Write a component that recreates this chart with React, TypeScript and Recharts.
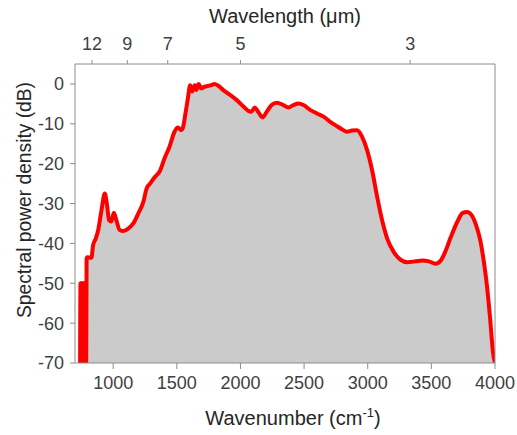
import React from "react";
import { ComposedChart, Area, XAxis, YAxis, Label } from "recharts";

// Wavenumber (cm^-1)
const wavenumbers = [
  740, 743, 746, 749, 752, 755, 758, 761, 764, 767, 770, 773, 776, 779, 782, 785, 788, 791, 795,
  829, 842, 863, 882, 908, 934, 950, 968, 985, 1005, 1026, 1050, 1080, 1118, 1158, 1197, 1237,
  1263, 1290, 1329, 1368, 1403, 1442, 1482, 1508, 1534, 1547, 1568, 1587, 1605, 1621, 1640,
  1653, 1671, 1692, 1718, 1745, 1771, 1797, 1823, 1863, 1916, 1969, 2021, 2060, 2085, 2113,
  2139, 2174, 2206, 2245, 2285, 2337, 2376, 2416, 2455, 2495, 2547, 2600, 2653, 2705, 2758,
  2800, 2837, 2876, 2916, 2955, 2995, 3034, 3074, 3113, 3153, 3205, 3258, 3311, 3376, 3429,
  3481, 3534, 3574, 3613, 3653, 3705, 3745, 3779, 3816, 3850, 3884, 3912, 3938, 3962, 3985, 4000,
];
// Spectral power density (dB)
const psd = [
  -70, -50, -70, -50, -70, -50, -70, -50, -70, -50, -70, -50, -70, -50, -70, -50, -70, -44, -43.5,
  -43.6, -40.5, -38.8, -36.7, -31.7, -27.5, -30, -34.2, -34.5, -32.3, -34.3, -36.6, -36.9, -36.3, -35, -32.5, -29.6,
  -26.2, -25, -23.3, -21.8, -18.7, -15.8, -12, -10.9, -11.6, -11.1, -7.4, -3.6, -0.3, -1.9, -0.3,
  -1.5, 0, -1.1, -0.7, -0.5, -0.3, 0, -0.4, -1.5, -2.7, -4, -5.6, -6.7, -7, -5.9,
  -7, -8.4, -7, -5.3, -4.7, -5.3, -5.9, -5.3, -4.9, -5.3, -6.5, -7.4, -8.2, -9.5, -10.6,
  -11.4, -12, -11.7, -11.6, -13.2, -16.6, -21.6, -28.3, -34.2, -38.8, -42.2, -44.1, -44.7, -44.5, -44.3,
  -44.5, -45.1, -44.3, -41.8, -38.4, -34.5, -32.4, -32.1, -32.9, -35.3, -39.2, -44.5, -51, -59, -67.5, -70,
];

const bottomTicks = [1000, 1500, 2000, 2500, 3000, 3500, 4000];
const wavelengthTicksUm = [12, 9, 7, 5, 3];
const yTicks = [0, -10, -20, -30, -40, -50, -60, -70];

const data = wavenumbers.map((w, i) => ({ w, p: psd[i] }));
const topTicks = wavelengthTicksUm.map((um) => 10000 / um);

const FONT = "'Liberation Sans', Arial, sans-serif";
const AXIS = "#8c8c8c";
const TICK_TEXT = "#404040";
const TITLE = "#262626";

export default function App() {
  return (
    <div style={{ position: "absolute", left: 0, top: 0, width: 517, height: 435, background: "#fff" }}>
      <ComposedChart
        width={517}
        height={435}
        data={data}
        margin={{ top: 34, right: 21, bottom: 0, left: 25 }}
        style={{ fontFamily: FONT }}
      >
        <XAxis
          xAxisId="b"
          dataKey="w"
          type="number"
          domain={[700, 4000]}
          ticks={bottomTicks}
          allowDataOverflow
          height={72}
          stroke={AXIS}
          tickSize={6}
          tickMargin={7}
          tick={{ fill: TICK_TEXT, fontSize: 18, fontFamily: FONT }}
        >
          <Label
            content={() => (
              <text x={293} y={425} textAnchor="middle" fill={TITLE} fontSize={20} fontFamily={FONT}>
                Wavenumber (cm
                <tspan fontSize={13} dy={-8}>-1</tspan>
                <tspan dy={8}>)</tspan>
              </text>
            )}
          />
        </XAxis>
        <XAxis
          xAxisId="t"
          orientation="top"
          dataKey="w"
          type="number"
          domain={[700, 4000]}
          ticks={topTicks}
          tickFormatter={(v: number) => String(Math.round(10000 / v))}
          allowDataOverflow
          height={30}
          stroke={AXIS}
          tickSize={4}
          tickMargin={10}
          tick={{ fill: TICK_TEXT, fontSize: 18, fontFamily: FONT }}
        >
          <Label
            content={() => (
              <text x={285} y={23} textAnchor="middle" fill={TITLE} fontSize={20} fontFamily={FONT}>
                Wavelength (μm)
              </text>
            )}
          />
        </XAxis>
        <YAxis
          yAxisId="l"
          type="number"
          domain={[-70, 5]}
          ticks={yTicks}
          allowDataOverflow
          width={50}
          stroke={AXIS}
          tickSize={5}
          tickMargin={6}
          tick={{ fill: TICK_TEXT, fontSize: 18, fontFamily: FONT }}
        >
          <Label
            content={() => (
              <text
                x={31}
                y={200}
                textAnchor="middle"
                fill={TITLE}
                fontSize={19.5}
                fontFamily={FONT}
                textLength={236}
                lengthAdjust="spacingAndGlyphs"
                transform="rotate(-90, 31, 200)"
              >
                Spectral power density (dB)
              </text>
            )}
          />
        </YAxis>
        <YAxis
          yAxisId="r"
          orientation="right"
          type="number"
          domain={[-70, 5]}
          width={1}
          tick={false}
          tickLine={false}
          stroke={AXIS}
        />
        <Area
          xAxisId="b"
          yAxisId="l"
          dataKey="p"
          type="monotone"
          baseValue={-70}
          fill="#cbcbcb"
          fillOpacity={1}
          stroke="#ff0000"
          strokeWidth={4}
          dot={false}
          activeDot={false}
          isAnimationActive={false}
        />
      </ComposedChart>
    </div>
  );
}
